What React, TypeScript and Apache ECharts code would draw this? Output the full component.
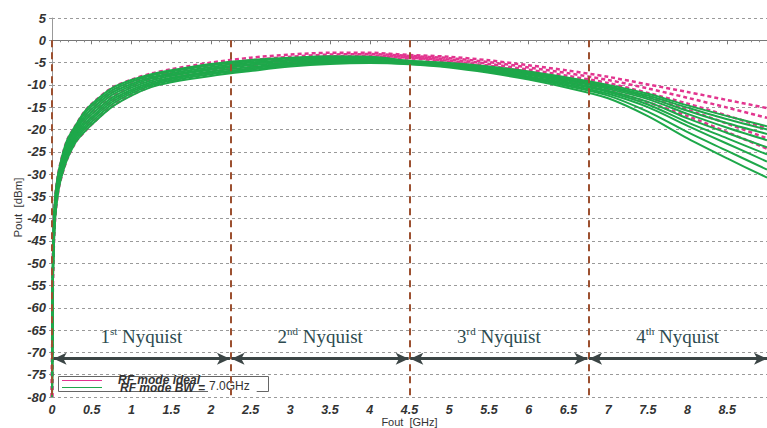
import React, { useEffect, useRef } from "react";
import * as echarts from "echarts";

// Frequency grid (GHz)
const freq = [0, 0.005, 0.01, 0.02, 0.04, 0.07, 0.1, 0.15, 0.2, 0.3, 0.4, 0.5, 0.75, 1, 1.25, 1.5, 2, 2.5, 3, 3.5, 4, 4.5, 5, 5.5, 6, 6.5, 7, 7.5, 8, 8.5, 9];

// RF mode BW = 7.0GHz (green, solid)
const bw1 = [-80, -58, -50, -42, -35, -30.7, -28, -24.5, -22, -19, -16.2, -14.3, -10.8, -8.9, -7.6, -6.7, -5.3, -4.4, -3.9, -3.6, -3.7, -4.6, -5.1, -5.9, -7.0, -8.4, -10.0, -12.0, -14.6, -17.0, -19.3];
const bw2 = [-80, -59, -50.9, -42.8, -35.6, -31.2, -28.5, -25.0, -22.5, -19.4, -16.7, -14.8, -11.3, -9.3, -7.9, -7.0, -5.6, -4.7, -4.1, -3.8, -3.8, -4.7, -5.2, -6.0, -7.2, -8.6, -10.3, -12.4, -15.1, -17.7, -20.0];
const bw3 = [-80, -60, -51.8, -43.5, -36.2, -31.8, -29, -25.6, -23.1, -19.9, -17.3, -15.4, -11.8, -9.8, -8.3, -7.4, -6.0, -5.0, -4.4, -4.0, -4.0, -4.8, -5.3, -6.2, -7.4, -8.9, -10.6, -12.8, -15.8, -18.6, -21.0];
const bw4 = [-80, -61, -52.6, -44.2, -36.8, -32.3, -29.5, -26.1, -23.6, -20.4, -17.8, -16.0, -12.3, -10.2, -8.6, -7.7, -6.3, -5.3, -4.6, -4.2, -4.2, -4.9, -5.4, -6.3, -7.6, -9.1, -10.9, -13.2, -16.5, -19.6, -22.4];
const bw5 = [-80, -62, -53.5, -45, -37.5, -32.8, -30, -26.6, -24.1, -20.9, -18.4, -16.6, -12.9, -10.6, -9.0, -8.0, -6.6, -5.6, -4.9, -4.4, -4.4, -5.0, -5.5, -6.5, -7.8, -9.4, -11.3, -13.8, -17.5, -20.8, -24.0];
const bw6 = [-80, -63, -54.4, -45.8, -38.2, -33.4, -30.5, -27.2, -24.7, -21.4, -19.0, -17.2, -13.4, -11.1, -9.4, -8.4, -7.0, -6.0, -5.2, -4.7, -4.6, -5.1, -5.7, -6.7, -8.1, -9.7, -11.6, -14.4, -18.4, -22.0, -25.6];
const bw7 = [-80, -64, -55.2, -46.5, -38.8, -33.9, -31, -27.7, -25.2, -21.8, -19.6, -17.7, -13.9, -11.5, -9.8, -8.7, -7.3, -6.3, -5.4, -4.9, -4.7, -5.2, -5.8, -6.9, -8.3, -10.0, -12.0, -15.0, -19.2, -23.2, -27.2];
const bw8 = [-80, -65, -56.1, -47.2, -39.4, -34.5, -31.5, -28.2, -25.7, -22.3, -20.1, -18.3, -14.4, -11.9, -10.1, -9.0, -7.6, -6.6, -5.6, -5.1, -4.9, -5.3, -5.9, -7.1, -8.5, -10.3, -12.4, -16.0, -20.6, -24.8, -29.0];
const bw9 = [-80, -66, -57, -48, -40, -35, -32, -28.8, -26.3, -22.8, -20.7, -18.9, -15, -12.4, -10.5, -9.4, -8.0, -6.9, -5.9, -5.3, -5.1, -5.4, -6.1, -7.3, -8.8, -10.7, -13.0, -17.0, -22.0, -26.5, -30.8];

// RF mode ideal (pink, dashed)
const id1 = [-80, -58, -50, -42, -35, -30.7, -28, -24.5, -22, -19, -16.2, -14.25, -10.7, -8.8, -7.45, -6.5, -5.0, -3.9, -3.2, -2.8, -2.8, -3.3, -3.7, -4.5, -5.6, -6.8, -8.2, -9.9, -11.6, -13.4, -15.2];
const id2 = [-80, -60, -51.8, -43.5, -36.2, -31.8, -29, -25.6, -23.1, -19.9, -17.3, -15.35, -11.7, -9.7, -8.15, -7.2, -5.7, -4.5, -3.7, -3.2, -3.1, -3.5, -4.0, -4.9, -6.1, -7.4, -8.9, -10.8, -12.9, -15.1, -17.4];
const id3 = [-80, -62, -53.5, -45, -37.5, -32.8, -30, -26.6, -24.1, -20.9, -18.4, -16.55, -12.8, -10.5, -8.85, -7.8, -6.3, -5.1, -4.2, -3.6, -3.4, -3.7, -4.3, -5.3, -6.6, -8.0, -9.6, -11.8, -14.2, -16.9, -19.7];
const id4 = [-80, -64, -55.2, -46.5, -38.8, -33.9, -31, -27.7, -25.2, -21.8, -19.6, -17.65, -13.8, -11.4, -9.65, -8.5, -7.0, -5.8, -4.7, -4.1, -3.7, -3.9, -4.6, -5.7, -7.1, -8.6, -10.4, -12.8, -15.6, -18.7, -22.0];
const id5 = [-80, -66, -57, -48, -40, -35, -32, -28.8, -26.3, -22.8, -20.7, -18.85, -14.9, -12.3, -10.35, -9.2, -7.7, -6.4, -5.2, -4.5, -4.1, -4.1, -4.9, -6.1, -7.6, -9.2, -11.2, -13.9, -17.0, -20.6, -24.3];

const bwSeries = [bw1, bw2, bw3, bw4, bw5, bw6, bw7, bw8, bw9];
const idealSeries = [id1, id2, id3, id4, id5];

// Nyquist zones
const zoneEdges = [0, 2.25, 4.5, 6.75];
const zoneCenters = [1.125, 3.375, 5.625, 7.875];
const zoneOrdinals = ["1", "2", "3", "4"];
const zoneSuffixes = ["st", "nd", "rd", "th"];
const arrowSpans = [[0.02, 2.24], [2.26, 4.49], [4.51, 6.74], [6.76, 9.0]];
const arrowLevel = -71.4;
const zoneLabelLevel = -66.4;
const edgeTop = 0;
const edgeBottom = -80;

const GREEN = "#1ea84a";
const PINK = "#e2358f";

export default function App() {
  const ref = useRef<HTMLDivElement>(null);

  useEffect(() => {
    if (!ref.current) return;
    const chart = echarts.init(ref.current, undefined, { renderer: "svg" });

    const toPairs = (vals: number[]) => freq.map((f, i) => [f, vals[i]]);

    const idealLines = idealSeries.map((vals, i) => ({
      type: "line",
      name: "RF mode ideal " + (i + 1),
      data: toPairs(vals),
      showSymbol: false,
      smooth: 0.3,
      lineStyle: { color: PINK, width: 2.5, type: [4, 3] },
      z: 3,
      silent: true,
    }));

    const bwLines = bwSeries.map((vals, i) => ({
      type: "line",
      name: "RF mode BW " + (i + 1),
      data: toPairs(vals),
      showSymbol: false,
      smooth: 0.3,
      lineStyle: { color: GREEN, width: 2 },
      z: 4,
      silent: true,
    }));

    const annot = {
      type: "line",
      data: [],
      silent: true,
      z: 2,
      markLine: {
        silent: true,
        animation: false,
        symbol: ["none", "none"],
        label: { show: false },
        lineStyle: { color: "#9c5030", width: 2, type: [7, 5] },
        data: zoneEdges.map((x) => [
          { coord: [x, edgeTop] },
          { coord: [x, edgeBottom] },
        ]),
      },
    };

    const arrows = {
      type: "line",
      data: [],
      silent: true,
      z: 5,
      markLine: {
        silent: true,
        animation: false,
        symbol: ["arrow", "arrow"],
        symbolSize: [9, 13],
        label: { show: false },
        lineStyle: { color: "#3b4545", width: 3, type: "solid" },
        itemStyle: { color: "#3b4545" },
        data: arrowSpans.map(([a, b]) => [
          { coord: [a, arrowLevel] },
          { coord: [b, arrowLevel] },
        ]),
      },
      markPoint: {
        silent: true,
        animation: false,
        symbol: "circle",
        symbolSize: 1,
        itemStyle: { color: "rgba(0,0,0,0)" },
        label: {
          show: true,
          position: "inside",
          formatter: (p: any) => {
            const i = p.dataIndex;
            return "{n|" + zoneOrdinals[i] + "}{s|" + zoneSuffixes[i] + "}{n| Nyquist}";
          },
          rich: {
            n: { fontFamily: "Liberation Serif", fontSize: 19, color: "#2d4b50", lineHeight: 22 },
            s: { fontFamily: "Liberation Serif", fontSize: 11, color: "#2d4b50", lineHeight: 12, verticalAlign: "top" },
          },
        },
        data: zoneCenters.map((x) => ({ coord: [x, zoneLabelLevel] })),
      },
    };

    const legendFont = "bold italic 12px 'Liberation Sans', Arial, sans-serif";

    chart.setOption({
      animation: false,
      textStyle: { fontFamily: "Liberation Sans" },
      grid: { left: 52, right: 0, top: 18, bottom: 31, containLabel: false, outerBoundsMode: "none" },
      xAxis: {
        type: "value",
        min: 0,
        max: 9,
        interval: 0.5,
        name: "Fout  [GHz]",
        nameLocation: "middle",
        nameGap: 19,
        nameMoveOverlap: false,
        nameTextStyle: { fontSize: 11, lineHeight: 12, color: "#333", verticalAlign: "top" },
        axisLine: { show: true, lineStyle: { color: "#777", width: 1 } },
        axisTick: { show: true, length: 4, lineStyle: { color: "#777" } },
        minorTick: { show: true, splitNumber: 5, length: 2, lineStyle: { color: "#888" } },
        splitLine: { show: false },
        axisLabel: {
          margin: 6,
          fontSize: 12.5,
          lineHeight: 13,
          fontWeight: "bold",
          fontStyle: "italic",
          color: "#333",
          showMaxLabel: false,
        },
      },
      yAxis: {
        type: "value",
        min: -80,
        max: 5,
        interval: 5,
        name: "Pout  [dBm]",
        nameLocation: "middle",
        nameGap: 28,
        nameMoveOverlap: false,
        nameTextStyle: { fontSize: 11.5, color: "#333" },
        axisLine: { show: true, lineStyle: { color: "#999", width: 1 } },
        axisTick: { show: true, length: 3, lineStyle: { color: "#999" } },
        splitLine: { show: true, lineStyle: { color: "#9a9a9a", width: 1, type: [3, 3] } },
        axisLabel: {
          margin: 6,
          fontSize: 13,
          fontWeight: "bold",
          fontStyle: "italic",
          color: "#333",
        },
      },
      series: [annot, ...idealLines, ...bwLines, arrows],
      graphic: [
        {
          type: "group",
          z: 100,
          children: [
            {
              type: "rect",
              shape: { x: 58.5, y: 376.5, width: 210, height: 15 },
              style: { fill: "#fff", stroke: "#666", lineWidth: 1 },
            },
            {
              type: "line",
              shape: { x1: 62, y1: 380.5, x2: 102, y2: 380.5 },
              style: { stroke: PINK, lineWidth: 1 },
            },
            {
              type: "line",
              shape: { x1: 62, y1: 387.5, x2: 102, y2: 387.5 },
              style: { stroke: GREEN, lineWidth: 1 },
            },
            {
              type: "text",
              x: 118,
              y: 380,
              style: { text: "RF mode ideal", font: legendFont, fill: "#333", verticalAlign: "middle" },
            },
            {
              type: "text",
              x: 120,
              y: 388,
              style: { text: "RF mode BW =", font: legendFont, fill: "#333", verticalAlign: "middle" },
            },
            {
              type: "text",
              x: 208,
              y: 386,
              style: {
                text: "7.0GHz",
                font: "12px 'Liberation Sans', Arial, sans-serif",
                fill: "#333",
                verticalAlign: "middle",
                backgroundColor: "#fff",
                padding: [2, 7, 3, 1],
              },
            },
          ],
        },
      ],
    });

    return () => chart.dispose();
  }, []);

  return (
    <div
      ref={ref}
      style={{ position: "absolute", left: 0, top: 0, width: 767, height: 428, background: "#fff" }}
    />
  );
}
